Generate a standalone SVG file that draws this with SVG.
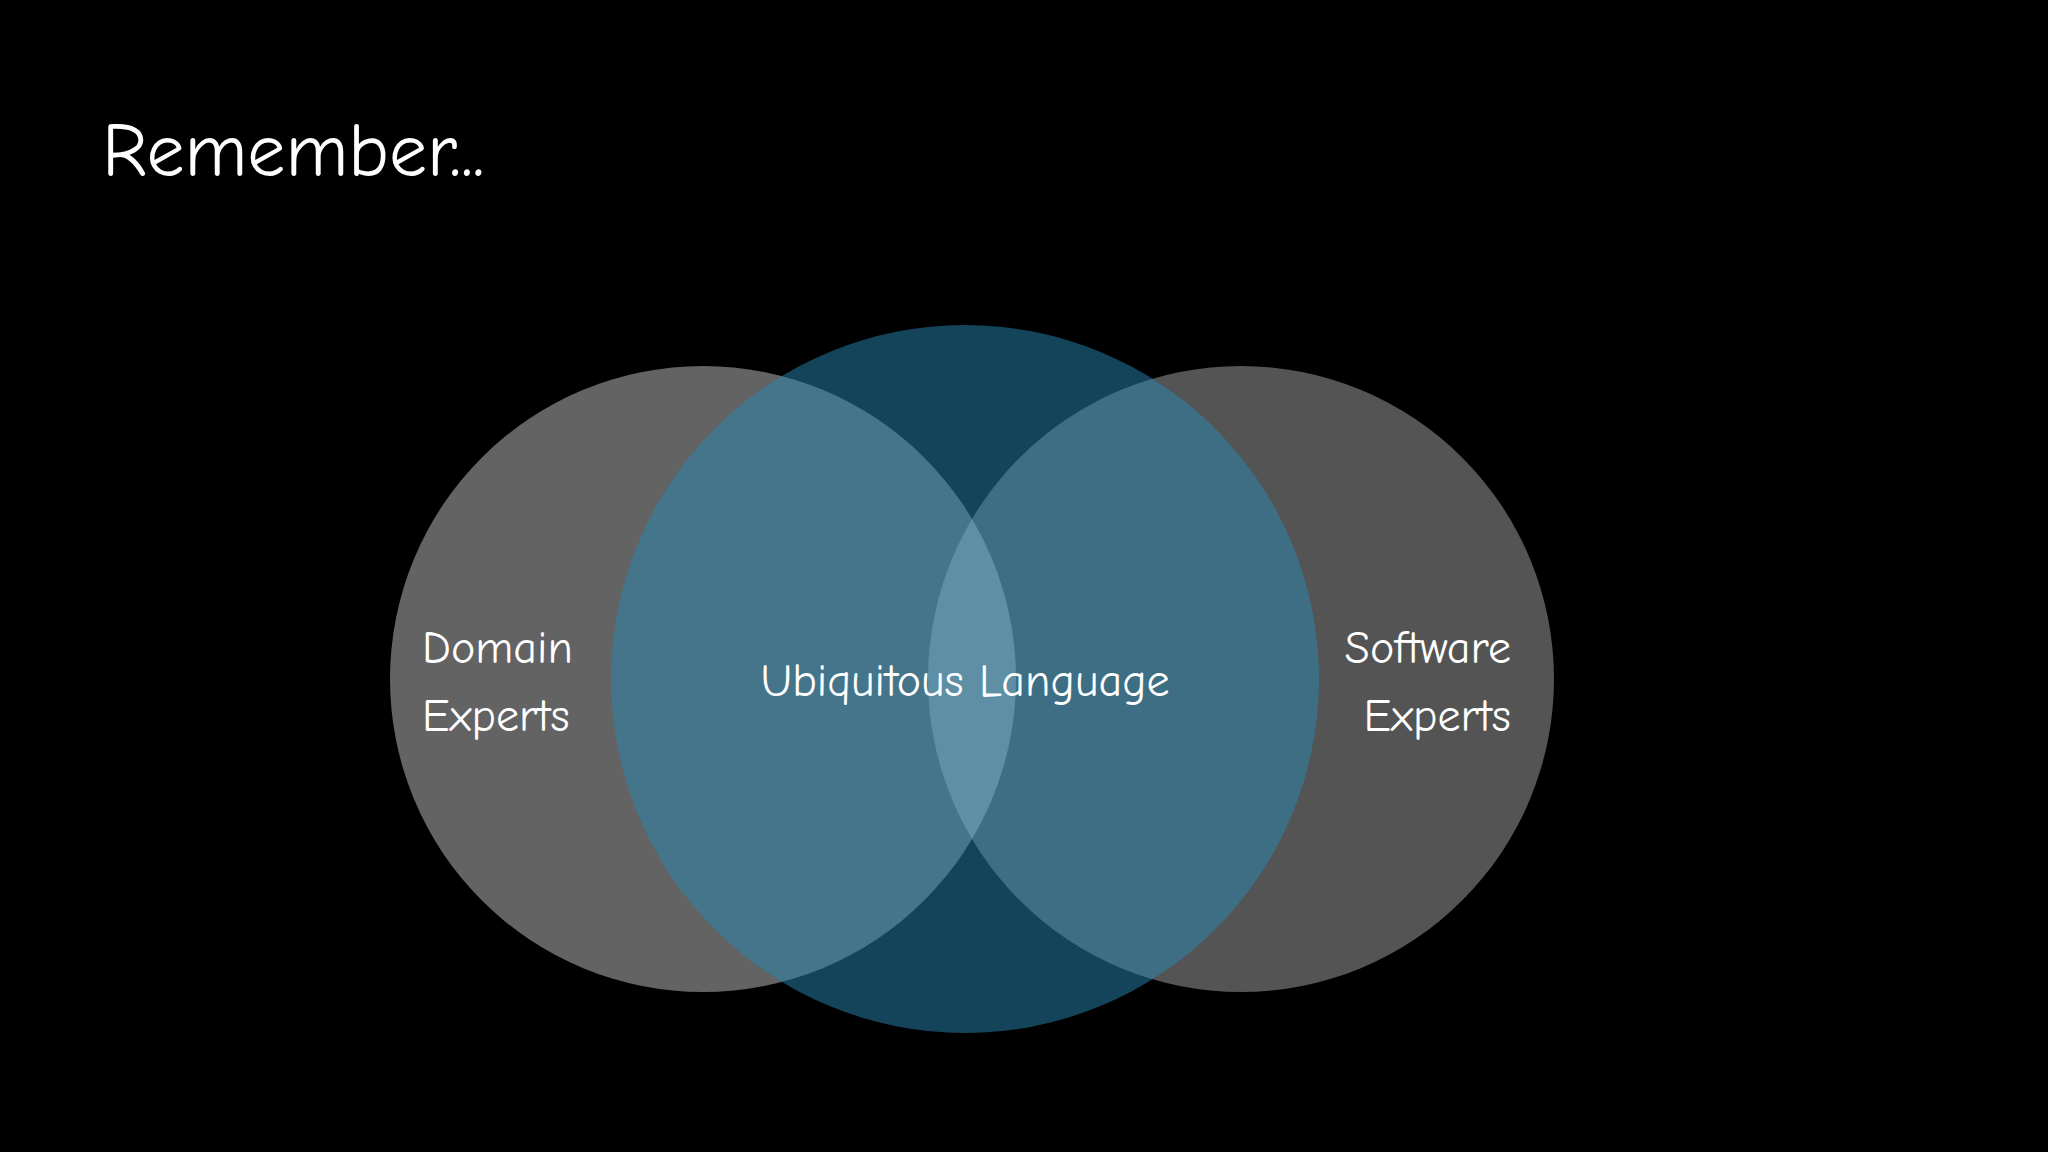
<svg xmlns="http://www.w3.org/2000/svg" width="2048" height="1152" viewBox="0 0 2048 1152">
<style>
text{font-family:"Comic Neue","Liberation Sans",sans-serif;fill:#fff}
.l{font-size:46px}
</style>
<rect width="2048" height="1152" fill="#000"/>
<text x="102" y="176" font-size="76">Remember...</text>
<g id="domain"><circle cx="703" cy="679" r="313" fill="#fff" fill-opacity="0.39"/></g>
<g id="software"><circle cx="1241" cy="679" r="313" fill="#fff" fill-opacity="0.33"/></g>
<g id="ubiquitous"><circle cx="965" cy="679" r="354" fill="#2688b2" fill-opacity="0.5"/></g>
<g id="labels">
<text class="l" x="422" y="663">Domain</text>
<text class="l" x="422" y="731">Experts</text>
<text class="l" x="965" y="696" text-anchor="middle">Ubiquitous Language</text>
<text class="l" x="1511" y="663" text-anchor="end">Software</text>
<text class="l" x="1511" y="731" text-anchor="end">Experts</text>
</g>
<g id="connectors"/>
</svg>
